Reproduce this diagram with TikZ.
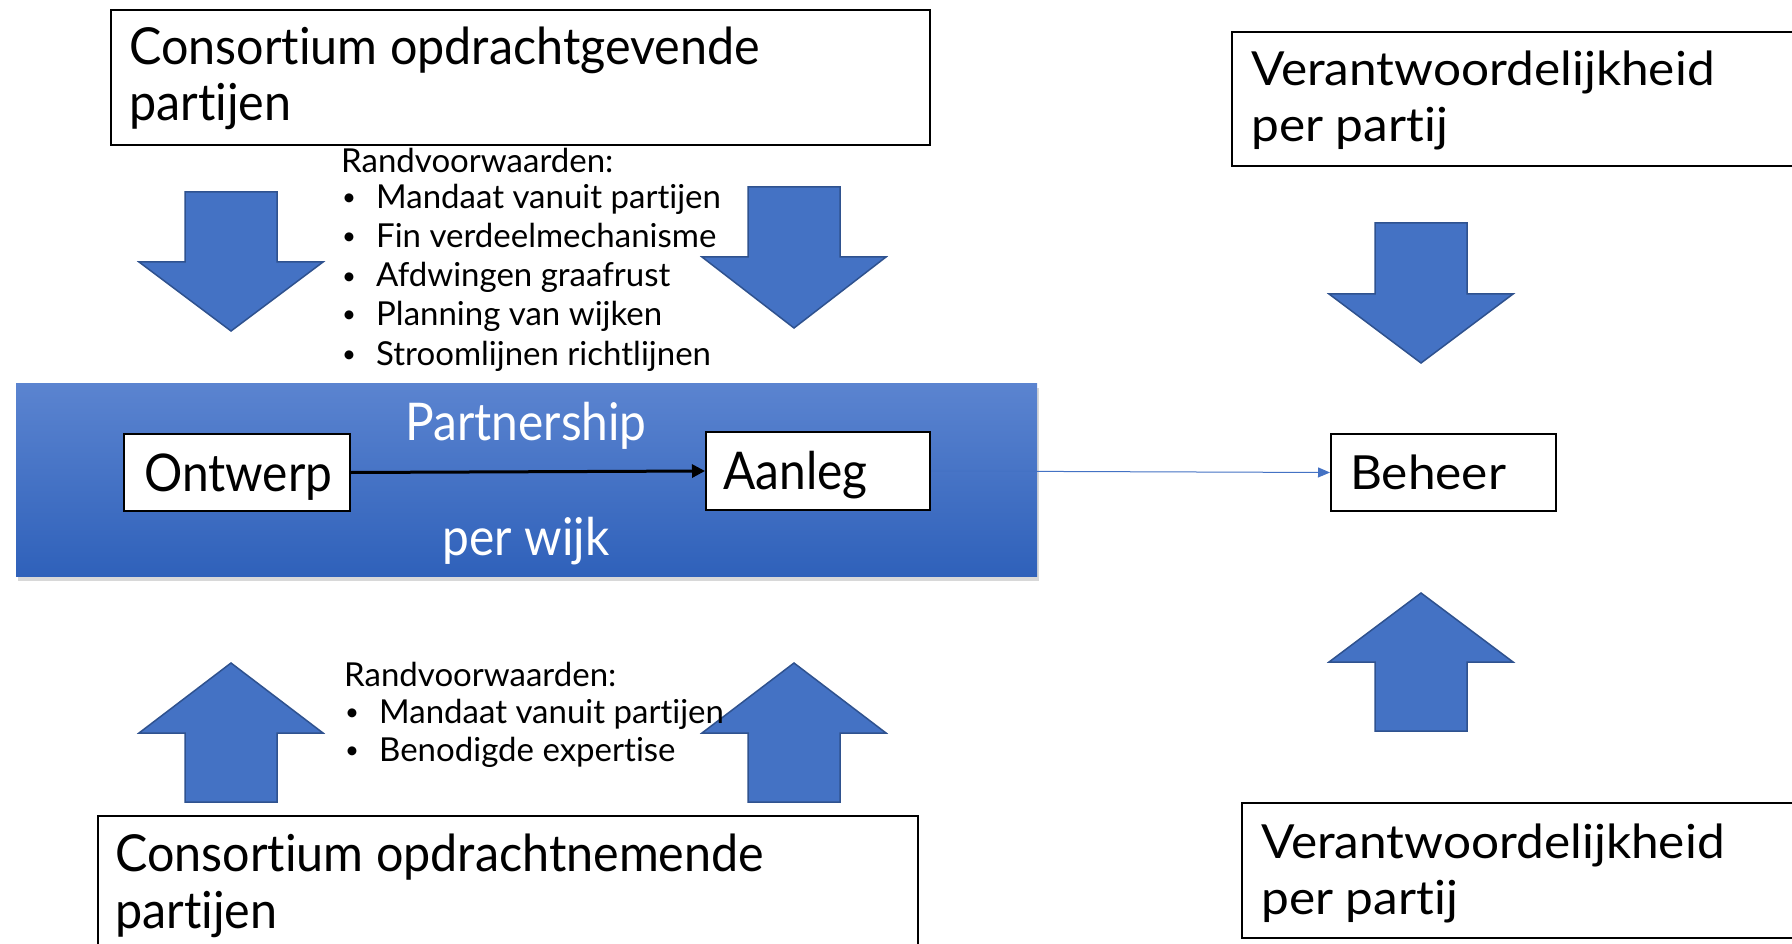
\documentclass[tikz,border=0pt]{standalone}
\usepackage{fontspec}
\setmainfont[Ligatures=NoCommon]{Lato}
\newfontfamily\condf[FakeStretch=0.92,Ligatures=NoCommon]{Lato}
\newfontfamily\bigf[FakeStretch=0.95,Ligatures=NoCommon]{Lato}
\newfontfamily\listf[FakeStretch=1.0,Ligatures=NoCommon]{Lato}
\newfontfamily\widef[FakeStretch=1.055,Ligatures=NoCommon]{Lato}
\usetikzlibrary{shadows,arrows.meta}
\definecolor{arrfill}{HTML}{4472C4}
\definecolor{arrline}{HTML}{2F528F}
\definecolor{ptop}{HTML}{5B84D0}
\definecolor{pbot}{HTML}{2F61BA}
\tikzset{
 box/.style={draw=black, line width=2pt, fill=white, inner sep=0pt, anchor=north west},
 bigtxt/.style={anchor=base west, inner sep=0pt, font=\bigf\fontsize{51}{57}\selectfont},
 listtxt/.style={anchor=base west, inner sep=0pt, font=\listf\fontsize{33}{39}\selectfont},
 bultxt/.style={anchor=base west, inner sep=0pt, font=\listf\fontsize{24}{30}\selectfont},
 midtxt/.style={anchor=base west, inner sep=0pt, font=\condf\fontsize{52}{60}\selectfont},
 whtxt/.style={anchor=base, inner sep=0pt, text=white, font=\condf\fontsize{52}{60}\selectfont},
 widetxt/.style={anchor=base west, inner sep=0pt, font=\widef\fontsize{47}{57}\selectfont},
 blockarrow/.style={fill=arrfill, draw=arrline, line width=1.5pt, line join=miter},
}
\newcommand\blkarrow[4]{%
 \path[blockarrow] (#1-46,#2) -- (#1+46,#2) -- (#1+46,#3) -- (#1+92,#3) -- (#1,#4) -- (#1-92,#3) -- (#1-46,#3) -- cycle;}
\begin{document}
\begin{tikzpicture}[x=1pt,y=-1pt]
\useasboundingbox (0,0) rectangle (1792,944);
\fill[white] (0,0) rectangle (1792,944);

% block arrows
\blkarrow{231}{192}{262}{331}
\blkarrow{794}{187}{257}{328}
\blkarrow{231}{802}{733}{663}
\blkarrow{794}{802}{733}{663}
\blkarrow{1421}{223}{294}{363}
\blkarrow{1421}{731}{662}{593}

% top-left box
\node[box, minimum width=819pt, minimum height=135pt] (cog) at (110,9) {};
\node[bigtxt] (cogt1) at (129,65) {Consortium opdrachtgevende};
\node[bigtxt] (cogt2) at (129,121) {partijen};

% first list
\node[listtxt] (ra0) at (341,173) {Randvoorwaarden:};
\node[bultxt] (ra1b) at (342,206) {•};
\node[listtxt] (ra1) at (376,209) {Mandaat vanuit partijen};
\node[bultxt] (ra2b) at (342,245) {•};
\node[listtxt] (ra2) at (376,248) {Fin verdeelmechanisme};
\node[bultxt] (ra3b) at (342,284) {•};
\node[listtxt] (ra3) at (376,287) {Afdwingen graafrust};
\node[bultxt] (ra4b) at (342,322) {•};
\node[listtxt] (ra4) at (376,325) {Planning van wijken};
\node[bultxt] (ra5b) at (342,362) {•};
\node[listtxt] (ra5) at (376,365) {Stroomlijnen richtlijnen};

% partnership band
\node[anchor=north west, inner sep=0pt, minimum width=1021pt, minimum height=193pt,
  top color=ptop, bottom color=pbot,
  drop shadow={shadow xshift=2pt, shadow yshift=-5pt, opacity=0.3}] (pship) at (16,383) {};
\node[whtxt] (pst1) at (526,440) {Partnership};
\node[whtxt] (pst2) at (526,555) {per wijk};

\node[box, minimum width=226pt, minimum height=77pt] (ontwerp) at (123,433) {};
\node[midtxt] (ontwerpt) at (144,491) {Ontwerp};
\node[box, minimum width=224pt, minimum height=78pt] (aanleg) at (705,431) {};
\node[midtxt] (aanlegt) at (723,489) {Aanleg};

\node[box, minimum width=225pt, minimum height=77pt] (beheer) at (1330,433) {};
\node[widetxt] (beheert) at (1350,489) {Beheer};

\draw[line width=3pt, -{Triangle[length=13pt,width=13pt]}] (ontwerp.east) -- (aanleg.west);
\draw[arrfill, line width=1pt, -{Triangle[length=12pt,width=10pt]}] (aanleg.east) -- (beheer.west);

% right boxes
\node[box, minimum width=620pt, minimum height=134pt] (vt) at (1231,31) {};
\node[widetxt] (vtt1) at (1251,86) {Verantwoordelijkheid};
\node[widetxt] (vtt2) at (1251,142) {per partij};
\node[box, minimum width=620pt, minimum height=135pt] (vb) at (1241,802) {};
\node[widetxt] (vbt1) at (1261,858) {Verantwoordelijkheid};
\node[widetxt] (vbt2) at (1261,914) {per partij};

% second list
\node[listtxt] (rb0) at (344,686) {Randvoorwaarden:};
\node[bultxt] (rb1b) at (345,720) {•};
\node[listtxt] (rb1) at (379,723) {Mandaat vanuit partijen};
\node[bultxt] (rb2b) at (345,758) {•};
\node[listtxt] (rb2) at (379,761) {Benodigde expertise};

% bottom-left box
\node[box, minimum width=820pt, minimum height=150pt] (con) at (97,815) {};
\node[bigtxt] (cont1) at (115,871) {Consortium opdrachtnemende};
\node[bigtxt] (cont2) at (115,928) {partijen};
\end{tikzpicture}
\end{document}
